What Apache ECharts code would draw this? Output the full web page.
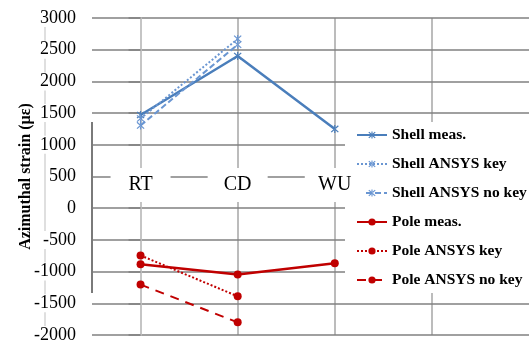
<!DOCTYPE html>
<html>
<head>
<meta charset="utf-8">
<script src="https://cdn.jsdelivr.net/npm/echarts@6/dist/echarts.min.js"></script>
<style>
  html, body { margin: 0; padding: 0; background: #fff; }
  #chart { width: 529px; height: 344px; }
</style>
</head>
<body>
<div id="chart"></div>
<script>
// Test stages along the x axis
const categories = ['RT', 'CD', 'WU'];
// Vertical guide positions (stage indices, plus one spare column)
const stageGuides = [0, 1, 2, 3];
// Strain axis ticks (µε)
const strainTicks = [-2000, -1500, -1000, -500, 0, 500, 1000, 1500, 2000, 2500, 3000];

// Azimuthal strain per stage (µε)
const shellMeas = [1470, 2400, 1250];
const shellAnsysKey = [1415, 2670];
const shellAnsysNoKey = [1305, 2580];
const poleMeas = [-885, -1045, -868];
const poleAnsysKey = [-745, -1390];
const poleAnsysNoKey = [-1205, -1800];

const SERIF = 'Liberation Serif';
const BLUE = '#4a7ebb';
const BLUE_LIGHT = '#6a96d2';
const RED = '#c00000';

// Asterisk marker built from three thin bars
const STAR = 'path://M-0.7,-5L0.7,-5L0.7,5L-0.7,5Z' +
  'M-3.5,-4.5L4.5,3.5L3.5,4.5L-4.5,-3.5Z' +
  'M-3.5,4.5L4.5,-3.5L3.5,-4.5L-4.5,3.5Z';

const toPoints = vals => vals.map((v, i) => [i, v]);

function lineSeries(name, vals, color, type, symbol, size, width) {
  return {
    name: name,
    type: 'line',
    data: toPoints(vals),
    symbol: symbol,
    symbolSize: size,
    showSymbol: true,
    lineStyle: { color: color, width: width, type: type },
    itemStyle: { color: color, borderWidth: 0 },
    z: 3
  };
}

const series = [
  lineSeries('Shell meas.', shellMeas, BLUE, 'solid', STAR, 8, 2.5),
  lineSeries('Shell ANSYS key', shellAnsysKey, BLUE_LIGHT, [2, 2], STAR, 8, 2),
  lineSeries('Shell ANSYS no key', shellAnsysNoKey, BLUE_LIGHT, [6, 3], STAR, 8, 2),
  lineSeries('Pole meas.', poleMeas, RED, 'solid', 'circle', 8, 2.5),
  lineSeries('Pole ANSYS key', poleAnsysKey, RED, [2, 2], 'circle', 8, 2),
  lineSeries('Pole ANSYS no key', poleAnsysNoKey, RED, [9, 7], 'circle', 8, 2)
];

// Vertical grid guides through each stage column
series[0].markLine = {
  silent: true,
  symbol: ['none', 'none'],
  label: { show: false },
  z: 1,
  lineStyle: { color: '#a6a6a6', width: 1.5, type: 'solid' },
  emphasis: { disabled: true },
  data: stageGuides.map(x => ({ xAxis: x }))
};

const chart = echarts.init(document.getElementById('chart'), null, { renderer: 'canvas' });

chart.setOption({
  animation: false,
  backgroundColor: '#fff',
  grid: { left: 92, right: 0, top: 18, bottom: 5 },
  xAxis: [{
    type: 'value',
    min: -0.5,
    max: 4,
    position: 'bottom',
    offset: -150,
    z: 8,
    axisLine: { show: false },
    axisTick: { show: false },
    splitLine: { show: false },
    axisLabel: {
      customValues: categories.map((c, i) => i),
      formatter: v => categories[v] || '',
      margin: 0,
      verticalAlign: 'middle',
      align: 'center',
      fontFamily: SERIF,
      fontSize: 20,
      lineHeight: 20,
      color: '#000',
      backgroundColor: '#fff',
      width: 60,
      padding: [7, 0]
    }
  }],
  yAxis: [{
    type: 'value',
    min: strainTicks[0],
    max: strainTicks[strainTicks.length - 1],
    interval: strainTicks[1] - strainTicks[0],
    z: 2,
    name: 'Azimuthal strain (µε)',
    nameLocation: 'middle',
    nameGap: 58,
    nameMoveOverlap: false,
    nameTextStyle: { fontFamily: SERIF, fontSize: 16, fontWeight: 'bold', color: '#000' },
    axisLine: { show: true, lineStyle: { color: '#c8c8c8', width: 1.5 } },
    axisTick: { show: true, length: 12, lineStyle: { color: '#808080', width: 1.5 } },
    splitLine: { show: true, lineStyle: { color: '#808080', width: 1.5 } },
    axisLabel: {
      margin: 15,
      formatter: v => String(v),
      fontFamily: SERIF,
      fontSize: 18,
      color: '#000',
      backgroundColor: '#fff',
      padding: [0, 1]
    }
  }, {
    type: 'value',
    position: 'left',
    offset: 47,
    z: 1,
    axisLine: { show: true, lineStyle: { color: '#d4d4d4', width: 1.5 } },
    axisTick: { show: false },
    axisLabel: { show: false },
    splitLine: { show: false }
  }],
  legend: {
    orient: 'vertical',
    left: 345,
    top: 122,
    z: 7,
    backgroundColor: '#fff',
    padding: [5, 4, 5, 11],
    itemGap: 13,
    itemWidth: 30,
    itemHeight: 9,
    textStyle: { fontFamily: SERIF, fontSize: 15.5, lineHeight: 16, fontWeight: 'bold', color: '#000' },
    data: series.map(s => s.name)
  },
  graphic: [{
    type: 'line',
    z: 3,
    silent: true,
    shape: { x1: 92, y1: 122, x2: 92, y2: 293 },
    style: { stroke: '#7a7a7a', lineWidth: 2 }
  }],
  series: series
});
</script>
</body>
</html>
